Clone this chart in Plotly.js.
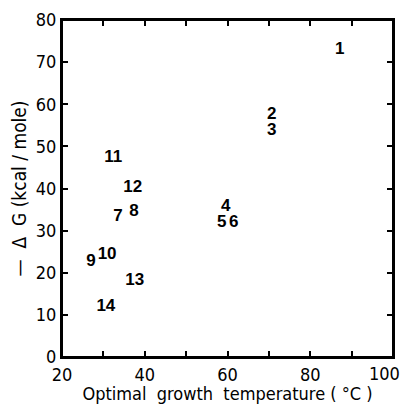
<!DOCTYPE html>
<html>
<head>
<meta charset="utf-8">
<script src="https://cdn.plot.ly/plotly-3.0.1.min.js"></script>
<style>html,body{margin:0;padding:0;background:#fff;overflow:hidden;}</style>
</head>
<body>
<div id="chart" style="width:403px;height:404px;position:relative;"></div>
<script>
// Data
const labels = ["1","2","3","4","5","6","7","8","9","10","11","12","13","14"];
const temperature = [87.1, 70.7, 70.7, 59.6, 58.6, 61.5, 33.5, 37.4, 27.0, 30.9, 32.4, 37.1, 37.6, 30.6];
const deltaG = [72.9, 57.4, 53.6, 35.6, 31.8, 31.8, 33.3, 34.4, 22.6, 24.2, 47.2, 40.1, 18.0, 11.9];
const xTickVals = [20, 30, 40, 50, 60, 70, 80, 90, 100];
const xTickText = ["20", "", "40", "", "60", "", "80", "", "100"];
const yTickVals = [0, 10, 20, 30, 40, 50, 60, 70, 80];

const fam = "DejaVu Sans Condensed, DejaVu Sans, sans-serif";
const tickFont = {family: fam, size: 18, color: "#000"};

const trace = {
  x: temperature,
  y: deltaG,
  text: labels,
  mode: "text",
  type: "scatter",
  textposition: "middle center",
  textfont: {family: "Liberation Sans, Arial, sans-serif", size: 17, color: "#000", weight: "bold"},
  showlegend: false
};

// invisible trace so that the mirrored (top/right) tick axes are drawn
const mirrorTrace = {
  x: [temperature[0]], y: [deltaG[0]], xaxis: "x2", yaxis: "y2",
  mode: "markers", marker: {opacity: 0}, showlegend: false
};

const lastIdx = xTickVals.length - 1;

const layout = {
  width: 403,
  height: 404,
  margin: {l: 62, r: 10, t: 20, b: 47},
  showlegend: false,
  xaxis: {
    range: [20, 100],
    tickmode: "array",
    tickvals: xTickVals,
    ticktext: xTickText.map((t, i) => i === lastIdx ? "" : t),
    ticks: "inside", ticklen: 6, tickwidth: 2, tickcolor: "#000",
    showline: true, linecolor: "#000", linewidth: 2, mirror: true,
    showgrid: false, zeroline: false,
    tickfont: tickFont,
    title: {text: "Optimal  growth  temperature ( °C )", font: {family: fam, size: 18, color: "#000"}, standoff: 4}
  },
  yaxis: {
    range: [0, 80],
    tickmode: "array",
    tickvals: yTickVals,
    ticks: "inside", ticklen: 6, tickwidth: 2, tickcolor: "#000",
    showline: true, linecolor: "#000", linewidth: 2, mirror: true,
    showgrid: false, zeroline: false,
    tickfont: tickFont,
    title: {text: "\u00a0\u00a0\u00a0\u00a0\u00a0\u00a0—  Δ  G (kcal / mole)", font: {family: fam, size: 19, color: "#000"}, standoff: 4}
  },
  xaxis2: {
    range: [20, 100], overlaying: "x", side: "top",
    tickmode: "array", tickvals: xTickVals, showticklabels: false,
    ticks: "inside", ticklen: 6, tickwidth: 2, tickcolor: "#000",
    showline: true, linecolor: "#000", linewidth: 2,
    showgrid: false, zeroline: false
  },
  yaxis2: {
    range: [0, 80], overlaying: "y", side: "right",
    tickmode: "array", tickvals: yTickVals, showticklabels: false,
    ticks: "inside", ticklen: 6, tickwidth: 2, tickcolor: "#000",
    showline: true, linecolor: "#000", linewidth: 2,
    showgrid: false, zeroline: false
  },
  shapes: [{
    type: "rect", xref: "paper", yref: "paper", x0: 0, x1: 1, y0: 0, y1: 1,
    line: {color: "#000", width: 2}, fillcolor: "rgba(0,0,0,0)", layer: "above"
  }],
  annotations: [{
    x: xTickVals[lastIdx], xref: "x",
    y: 0, yref: "paper",
    text: xTickText[lastIdx],
    showarrow: false,
    xanchor: "right", yanchor: "middle",
    xshift: 9, yshift: -16,
    font: tickFont
  }]
};

Plotly.newPlot("chart", [trace, mirrorTrace], layout, {displayModeBar: false});
</script>
</body>
</html>
